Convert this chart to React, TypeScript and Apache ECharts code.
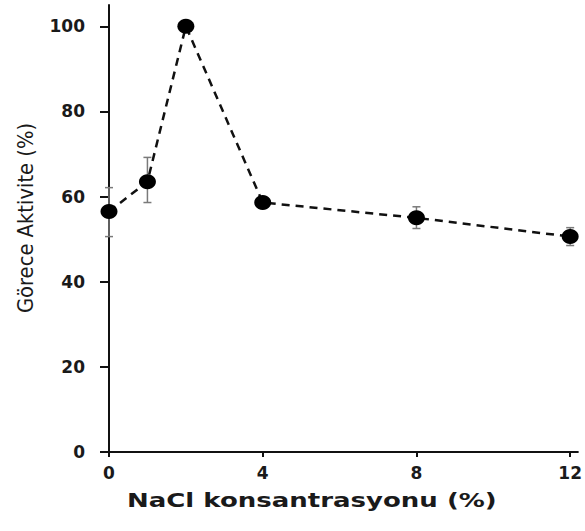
import React, { useEffect, useRef } from "react";
import * as echarts from "echarts";

const nacl = [0, 1, 2, 4, 8, 12];
const activity = [56.5, 63.5, 100, 58.6, 55.0, 50.6];
const errLow = [50.6, 58.6, 99.5, 58.0, 52.5, 48.5];
const errHigh = [62.1, 69.2, 100.5, 59.3, 57.6, 52.7];
const xTicks = [0, 4, 8, 12];
const yTicks = [0, 20, 40, 60, 80, 100];
const xName = "NaCl konsantrasyonu (%)";
const yName = "Görece Aktivite (%)";

export default function App() {
  const ref = useRef<HTMLDivElement>(null);
  useEffect(() => {
    if (!ref.current) return;
    const chart = echarts.init(ref.current, undefined, { renderer: "svg" });
    const lineData = nacl.map((x, i) => [x, activity[i]]);
    const errData = nacl.map((x, i) => [x, errLow[i], errHigh[i]]);
    chart.setOption({
      animation: false,
      backgroundColor: "#ffffff",
      grid: { left: 109, right: 5, top: 5, bottom: 79, containLabel: false },
      xAxis: {
        type: "value",
        min: 0,
        max: 12.2,
        splitLine: { show: false },
        axisLine: { show: true, lineStyle: { color: "#111", width: 2 } },
        axisTick: { show: true, length: 5, customValues: xTicks, lineStyle: { color: "#111", width: 2 } },
        axisLabel: {
          customValues: xTicks,
          margin: 12,
          color: "#1a1a1a",
          fontFamily: "DejaVu Sans",
          fontWeight: "bold",
          fontSize: 17,
        },
      },
      yAxis: {
        type: "value",
        min: 0,
        max: 105,
        splitLine: { show: false },
        axisLine: { show: true, lineStyle: { color: "#111", width: 2 } },
        axisTick: { show: true, length: 9, customValues: yTicks, lineStyle: { color: "#111", width: 2 } },
        axisLabel: {
          customValues: yTicks,
          margin: 24,
          color: "#1a1a1a",
          fontFamily: "DejaVu Sans",
          fontWeight: "bold",
          fontSize: 17,
        },
      },
      graphic: [
        {
          type: "text",
          x: 127,
          y: 500,
          scaleX: 1.3,
          style: {
            text: xName,
            font: 'bold 20px "DejaVu Sans"',
            fill: "#1a1a1a",
            textAlign: "left",
            textVerticalAlign: "middle",
            align: "left",
            verticalAlign: "middle",
          },
        },
        {
          type: "text",
          x: 26,
          y: 218,
          rotation: Math.PI / 2,
          scaleX: 1.15,
          scaleY: 1.2,
          style: {
            text: yName,
            font: '17px "DejaVu Sans"',
            fill: "#1a1a1a",
            textAlign: "center",
            textVerticalAlign: "middle",
            align: "center",
            verticalAlign: "middle",
          },
        },
      ],
      series: [
        {
          type: "custom",
          z: 1,
          data: errData,
          renderItem: (params: any, api: any) => {
            const x = api.value(0);
            const lo = api.coord([x, api.value(1)]);
            const hi = api.coord([x, api.value(2)]);
            const cap = 4;
            const style = { stroke: "#7a7a7a", lineWidth: 1.5 };
            return {
              type: "group",
              children: [
                { type: "line", shape: { x1: lo[0], y1: lo[1], x2: hi[0], y2: hi[1] }, style },
                { type: "line", shape: { x1: lo[0] - cap, y1: lo[1], x2: lo[0] + cap, y2: lo[1] }, style },
                { type: "line", shape: { x1: hi[0] - cap, y1: hi[1], x2: hi[0] + cap, y2: hi[1] }, style },
              ],
            };
          },
        },
        {
          type: "line",
          z: 3,
          data: lineData,
          symbol: "circle",
          symbolSize: [17, 15],
          itemStyle: { color: "#000" },
          lineStyle: { color: "#111", width: 2.5, type: [8, 6] },
        },
      ],
    });
    return () => chart.dispose();
  }, []);
  return (
    <div
      ref={ref}
      style={{ position: "absolute", left: 0, top: 0, width: 585, height: 531, background: "#fff" }}
    />
  );
}
